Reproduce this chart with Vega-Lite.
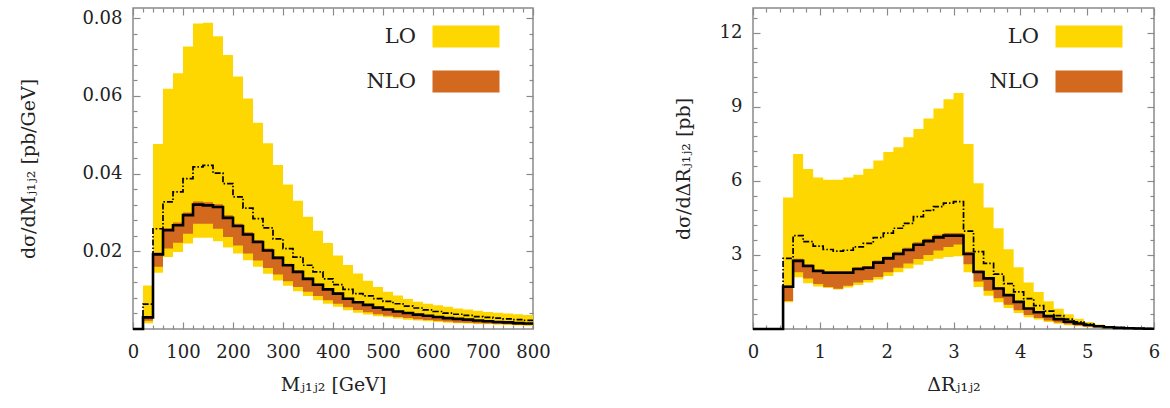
{
  "$schema": "https://vega.github.io/schema/vega-lite/v6.json",
  "padding": {"left": 19, "top": 6, "right": 5, "bottom": 0},
  "spacing": 122,
  "background": "white",
  "config": {
    "view": {"stroke": "#8a8a8a", "strokeWidth": 1.5},
    "axis": {
      "domain": false,
      "grid": false,
      "labelFont": "DejaVu Serif",
      "labelFontSize": 18,
      "labelColor": "#222",
      "titleFont": "DejaVu Serif",
      "titleFontSize": 19,
      "titleFontWeight": "normal",
      "titleColor": "#222",
      "tickColor": "#8a8a8a",
      "tickWidth": 1.2,
      "zindex": 1
    }
  },
  "resolve": {"scale": {"color": "independent"}, "legend": {"color": "independent"}},
  "datasets": {
    "mjj": [
      {"lo":0,"hi":20,"lo_min":0,"lo_max":0,"lo_c":0,"nlo_min":0,"nlo_max":0,"nlo_c":0},
      {"lo":20,"hi":40,"lo_min":0.0015,"lo_max":0.0112,"lo_c":0.0064,"nlo_min":0.0021,"nlo_max":0.0032,"nlo_c":0.0030},
      {"lo":40,"hi":60,"lo_min":0.0145,"lo_max":0.0476,"lo_c":0.0258,"nlo_min":0.0160,"nlo_max":0.0197,"nlo_c":0.0192},
      {"lo":60,"hi":80,"lo_min":0.0185,"lo_max":0.0618,"lo_c":0.0327,"nlo_min":0.0207,"nlo_max":0.0260,"nlo_c":0.0254},
      {"lo":80,"hi":100,"lo_min":0.0198,"lo_max":0.0658,"lo_c":0.0353,"nlo_min":0.0222,"nlo_max":0.0274,"nlo_c":0.0267},
      {"lo":100,"hi":120,"lo_min":0.0220,"lo_max":0.0727,"lo_c":0.0387,"nlo_min":0.0245,"nlo_max":0.0300,"nlo_c":0.0293},
      {"lo":120,"hi":140,"lo_min":0.0235,"lo_max":0.0786,"lo_c":0.0417,"nlo_min":0.0271,"nlo_max":0.0328,"nlo_c":0.0320},
      {"lo":140,"hi":160,"lo_min":0.0235,"lo_max":0.0788,"lo_c":0.0421,"nlo_min":0.0271,"nlo_max":0.0326,"nlo_c":0.0318},
      {"lo":160,"hi":180,"lo_min":0.0226,"lo_max":0.0753,"lo_c":0.0401,"nlo_min":0.0258,"nlo_max":0.0321,"nlo_c":0.0314},
      {"lo":180,"hi":200,"lo_min":0.0210,"lo_max":0.0705,"lo_c":0.0374,"nlo_min":0.0237,"nlo_max":0.0293,"nlo_c":0.0286},
      {"lo":200,"hi":220,"lo_min":0.0194,"lo_max":0.0650,"lo_c":0.0340,"nlo_min":0.0215,"nlo_max":0.0271,"nlo_c":0.0265},
      {"lo":220,"hi":240,"lo_min":0.0177,"lo_max":0.0593,"lo_c":0.0311,"nlo_min":0.0194,"nlo_max":0.0249,"nlo_c":0.0243},
      {"lo":240,"hi":260,"lo_min":0.0160,"lo_max":0.0531,"lo_c":0.0284,"nlo_min":0.0176,"nlo_max":0.0229,"nlo_c":0.0224},
      {"lo":260,"hi":280,"lo_min":0.0142,"lo_max":0.0478,"lo_c":0.0260,"nlo_min":0.0157,"nlo_max":0.0207,"nlo_c":0.0202},
      {"lo":280,"hi":300,"lo_min":0.0125,"lo_max":0.0422,"lo_c":0.0232,"nlo_min":0.0140,"nlo_max":0.0187,"nlo_c":0.0183},
      {"lo":300,"hi":320,"lo_min":0.0111,"lo_max":0.0372,"lo_c":0.0207,"nlo_min":0.0123,"nlo_max":0.0168,"nlo_c":0.0164},
      {"lo":320,"hi":340,"lo_min":0.0097,"lo_max":0.0330,"lo_c":0.0185,"nlo_min":0.0108,"nlo_max":0.0151,"nlo_c":0.0147},
      {"lo":340,"hi":360,"lo_min":0.0085,"lo_max":0.0289,"lo_c":0.0164,"nlo_min":0.0096,"nlo_max":0.0133,"nlo_c":0.0129},
      {"lo":360,"hi":380,"lo_min":0.0074,"lo_max":0.0253,"lo_c":0.0147,"nlo_min":0.0085,"nlo_max":0.0117,"nlo_c":0.0114},
      {"lo":380,"hi":400,"lo_min":0.0065,"lo_max":0.0221,"lo_c":0.0129,"nlo_min":0.0074,"nlo_max":0.0105,"nlo_c":0.0102},
      {"lo":400,"hi":420,"lo_min":0.0057,"lo_max":0.0189,"lo_c":0.0114,"nlo_min":0.0065,"nlo_max":0.0094,"nlo_c":0.0091},
      {"lo":420,"hi":440,"lo_min":0.0048,"lo_max":0.0165,"lo_c":0.0102,"nlo_min":0.0056,"nlo_max":0.0081,"nlo_c":0.0078},
      {"lo":440,"hi":460,"lo_min":0.0042,"lo_max":0.0143,"lo_c":0.0091,"nlo_min":0.0049,"nlo_max":0.0071,"nlo_c":0.0069},
      {"lo":460,"hi":480,"lo_min":0.0037,"lo_max":0.0124,"lo_c":0.0085,"nlo_min":0.0043,"nlo_max":0.0064,"nlo_c":0.0062},
      {"lo":480,"hi":500,"lo_min":0.0033,"lo_max":0.0108,"lo_c":0.0078,"nlo_min":0.0038,"nlo_max":0.0057,"nlo_c":0.0055},
      {"lo":500,"hi":520,"lo_min":0.0030,"lo_max":0.0096,"lo_c":0.0071,"nlo_min":0.0034,"nlo_max":0.0052,"nlo_c":0.0050},
      {"lo":520,"hi":540,"lo_min":0.0027,"lo_max":0.0086,"lo_c":0.0065,"nlo_min":0.0031,"nlo_max":0.0047,"nlo_c":0.0045},
      {"lo":540,"hi":560,"lo_min":0.0024,"lo_max":0.0077,"lo_c":0.0059,"nlo_min":0.0028,"nlo_max":0.0043,"nlo_c":0.0041},
      {"lo":560,"hi":580,"lo_min":0.0022,"lo_max":0.0070,"lo_c":0.0054,"nlo_min":0.0025,"nlo_max":0.0039,"nlo_c":0.0037},
      {"lo":580,"hi":600,"lo_min":0.0020,"lo_max":0.0065,"lo_c":0.0049,"nlo_min":0.0023,"nlo_max":0.0035,"nlo_c":0.0034},
      {"lo":600,"hi":620,"lo_min":0.0018,"lo_max":0.0061,"lo_c":0.0045,"nlo_min":0.0021,"nlo_max":0.0032,"nlo_c":0.0031},
      {"lo":620,"hi":640,"lo_min":0.0016,"lo_max":0.0057,"lo_c":0.0041,"nlo_min":0.0019,"nlo_max":0.0029,"nlo_c":0.0028},
      {"lo":640,"hi":660,"lo_min":0.0015,"lo_max":0.0053,"lo_c":0.0038,"nlo_min":0.0017,"nlo_max":0.0027,"nlo_c":0.0026},
      {"lo":660,"hi":680,"lo_min":0.0014,"lo_max":0.0050,"lo_c":0.0035,"nlo_min":0.0016,"nlo_max":0.0025,"nlo_c":0.0024},
      {"lo":680,"hi":700,"lo_min":0.0013,"lo_max":0.0047,"lo_c":0.0032,"nlo_min":0.0015,"nlo_max":0.0023,"nlo_c":0.0022},
      {"lo":700,"hi":720,"lo_min":0.0012,"lo_max":0.0044,"lo_c":0.0030,"nlo_min":0.0014,"nlo_max":0.0021,"nlo_c":0.0020},
      {"lo":720,"hi":740,"lo_min":0.0011,"lo_max":0.0042,"lo_c":0.0028,"nlo_min":0.0013,"nlo_max":0.0019,"nlo_c":0.0018},
      {"lo":740,"hi":760,"lo_min":0.0010,"lo_max":0.0040,"lo_c":0.0026,"nlo_min":0.0012,"nlo_max":0.0018,"nlo_c":0.0017},
      {"lo":760,"hi":780,"lo_min":0.0009,"lo_max":0.0038,"lo_c":0.0024,"nlo_min":0.0011,"nlo_max":0.0016,"nlo_c":0.0015},
      {"lo":780,"hi":800,"lo_min":0.0008,"lo_max":0.0036,"lo_c":0.0022,"nlo_min":0.0010,"nlo_max":0.0015,"nlo_c":0.0014}
    ],
    "dr": [
      {"lo":0,"hi":0.15,"lo_min":0,"lo_max":0,"lo_c":0,"nlo_min":0,"nlo_max":0,"nlo_c":0},
      {"lo":0.15,"hi":0.3,"lo_min":0,"lo_max":0,"lo_c":0,"nlo_min":0,"nlo_max":0,"nlo_c":0},
      {"lo":0.3,"hi":0.45,"lo_min":0,"lo_max":0,"lo_c":0,"nlo_min":0,"nlo_max":0,"nlo_c":0},
      {"lo":0.45,"hi":0.6,"lo_min":1.08,"lo_max":5.33,"lo_c":2.86,"nlo_min":1.13,"nlo_max":1.76,"nlo_c":1.71},
      {"lo":0.6,"hi":0.75,"lo_min":2.10,"lo_max":7.09,"lo_c":3.78,"nlo_min":2.30,"nlo_max":2.84,"nlo_c":2.76},
      {"lo":0.75,"hi":0.9,"lo_min":1.85,"lo_max":6.48,"lo_c":3.54,"nlo_min":2.05,"nlo_max":2.62,"nlo_c":2.55},
      {"lo":0.9,"hi":1.05,"lo_min":1.72,"lo_max":6.14,"lo_c":3.36,"nlo_min":1.82,"nlo_max":2.42,"nlo_c":2.35},
      {"lo":1.05,"hi":1.2,"lo_min":1.66,"lo_max":6.04,"lo_c":3.22,"nlo_min":1.70,"nlo_max":2.35,"nlo_c":2.28},
      {"lo":1.2,"hi":1.35,"lo_min":1.60,"lo_max":6.04,"lo_c":3.15,"nlo_min":1.63,"nlo_max":2.35,"nlo_c":2.28},
      {"lo":1.35,"hi":1.5,"lo_min":1.68,"lo_max":6.14,"lo_c":3.19,"nlo_min":1.75,"nlo_max":2.35,"nlo_c":2.28},
      {"lo":1.5,"hi":1.65,"lo_min":1.78,"lo_max":6.25,"lo_c":3.33,"nlo_min":1.88,"nlo_max":2.50,"nlo_c":2.43},
      {"lo":1.65,"hi":1.8,"lo_min":1.88,"lo_max":6.49,"lo_c":3.47,"nlo_min":1.98,"nlo_max":2.55,"nlo_c":2.48},
      {"lo":1.8,"hi":1.95,"lo_min":2.00,"lo_max":6.82,"lo_c":3.70,"nlo_min":2.11,"nlo_max":2.77,"nlo_c":2.69},
      {"lo":1.95,"hi":2.1,"lo_min":2.15,"lo_max":7.17,"lo_c":3.88,"nlo_min":2.30,"nlo_max":2.94,"nlo_c":2.86},
      {"lo":2.1,"hi":2.25,"lo_min":2.30,"lo_max":7.36,"lo_c":4.08,"nlo_min":2.48,"nlo_max":3.13,"nlo_c":3.04},
      {"lo":2.25,"hi":2.4,"lo_min":2.45,"lo_max":7.77,"lo_c":4.28,"nlo_min":2.65,"nlo_max":3.29,"nlo_c":3.20},
      {"lo":2.4,"hi":2.55,"lo_min":2.60,"lo_max":8.10,"lo_c":4.55,"nlo_min":2.83,"nlo_max":3.51,"nlo_c":3.41},
      {"lo":2.55,"hi":2.7,"lo_min":2.75,"lo_max":8.52,"lo_c":4.80,"nlo_min":3.00,"nlo_max":3.66,"nlo_c":3.56},
      {"lo":2.7,"hi":2.85,"lo_min":2.85,"lo_max":8.93,"lo_c":4.96,"nlo_min":3.18,"nlo_max":3.82,"nlo_c":3.71},
      {"lo":2.85,"hi":3,"lo_min":2.92,"lo_max":9.30,"lo_c":5.10,"nlo_min":3.32,"nlo_max":3.89,"nlo_c":3.78},
      {"lo":3,"hi":3.15,"lo_min":2.95,"lo_max":9.56,"lo_c":5.16,"nlo_min":3.42,"nlo_max":3.89,"nlo_c":3.78},
      {"lo":3.15,"hi":3.3,"lo_min":2.30,"lo_max":7.49,"lo_c":3.96,"nlo_min":2.62,"nlo_max":3.13,"nlo_c":3.04},
      {"lo":3.3,"hi":3.45,"lo_min":1.70,"lo_max":5.90,"lo_c":3.13,"nlo_min":1.92,"nlo_max":2.38,"nlo_c":2.31},
      {"lo":3.45,"hi":3.6,"lo_min":1.35,"lo_max":4.92,"lo_c":2.66,"nlo_min":1.55,"nlo_max":2.11,"nlo_c":2.05},
      {"lo":3.6,"hi":3.75,"lo_min":1.08,"lo_max":4.08,"lo_c":2.22,"nlo_min":1.25,"nlo_max":1.69,"nlo_c":1.64},
      {"lo":3.75,"hi":3.9,"lo_min":0.85,"lo_max":3.23,"lo_c":1.84,"nlo_min":0.98,"nlo_max":1.41,"nlo_c":1.37},
      {"lo":3.9,"hi":4.05,"lo_min":0.65,"lo_max":2.50,"lo_c":1.50,"nlo_min":0.76,"nlo_max":1.13,"nlo_c":1.10},
      {"lo":4.05,"hi":4.2,"lo_min":0.48,"lo_max":1.88,"lo_c":1.23,"nlo_min":0.57,"nlo_max":0.86,"nlo_c":0.83},
      {"lo":4.2,"hi":4.35,"lo_min":0.38,"lo_max":1.50,"lo_c":0.95,"nlo_min":0.45,"nlo_max":0.71,"nlo_c":0.68},
      {"lo":4.35,"hi":4.5,"lo_min":0.28,"lo_max":1.12,"lo_c":0.72,"nlo_min":0.34,"nlo_max":0.54,"nlo_c":0.52},
      {"lo":4.5,"hi":4.65,"lo_min":0.21,"lo_max":0.82,"lo_c":0.54,"nlo_min":0.26,"nlo_max":0.42,"nlo_c":0.40},
      {"lo":4.65,"hi":4.8,"lo_min":0.15,"lo_max":0.60,"lo_c":0.40,"nlo_min":0.19,"nlo_max":0.31,"nlo_c":0.30},
      {"lo":4.8,"hi":4.95,"lo_min":0.11,"lo_max":0.42,"lo_c":0.29,"nlo_min":0.14,"nlo_max":0.23,"nlo_c":0.22},
      {"lo":4.95,"hi":5.1,"lo_min":0.08,"lo_max":0.28,"lo_c":0.20,"nlo_min":0.10,"nlo_max":0.17,"nlo_c":0.16},
      {"lo":5.1,"hi":5.25,"lo_min":0.055,"lo_max":0.18,"lo_c":0.13,"nlo_min":0.07,"nlo_max":0.115,"nlo_c":0.11},
      {"lo":5.25,"hi":5.4,"lo_min":0.035,"lo_max":0.11,"lo_c":0.085,"nlo_min":0.045,"nlo_max":0.075,"nlo_c":0.07},
      {"lo":5.4,"hi":5.55,"lo_min":0.022,"lo_max":0.07,"lo_c":0.055,"nlo_min":0.03,"nlo_max":0.048,"nlo_c":0.045},
      {"lo":5.55,"hi":5.7,"lo_min":0.015,"lo_max":0.045,"lo_c":0.035,"nlo_min":0.02,"nlo_max":0.032,"nlo_c":0.03},
      {"lo":5.7,"hi":5.85,"lo_min":0.01,"lo_max":0.03,"lo_c":0.022,"nlo_min":0.012,"nlo_max":0.021,"nlo_c":0.02},
      {"lo":5.85,"hi":6,"lo_min":0.005,"lo_max":0.02,"lo_c":0.013,"nlo_min":0.007,"nlo_max":0.011,"nlo_c":0.01}
    ]
  },
  "hconcat": [
    {
      "width": 400,
      "height": 321,
      "data": {"name": "mjj"},
      "transform": [{"fold": ["lo", "hi"], "as": ["side", "edge"]}],
      "resolve": {"axis": {"x": "independent", "y": "independent"}},
      "layer": [
        {
          "mark": {"type": "area", "interpolate": "linear"},
          "encoding": {
            "x": {"field": "edge", "type": "quantitative", "scale": {"domain": [0, 800], "nice": false, "zero": false},
              "axis": {"orient": "bottom", "values": [0,20,40,60,80,100,120,140,160,180,200,220,240,260,280,300,320,340,360,380,400,420,440,460,480,500,520,540,560,580,600,620,640,660,680,700,720,740,760,780,800],
                "labelExpr": "datum.value % 100 === 0 ? datum.label : ''",
                "tickSize": {"condition": {"test": "datum.value % 100 === 0", "value": -7}, "value": -4},
                "labelPadding": 21, "labelFlush": false, "labelOverlap": false, "titlePadding": 11,
                "title": "Mⱼ₁ⱼ₂ [GeV]"}},
            "y": {"field": "lo_min", "type": "quantitative", "scale": {"domain": [0, 0.0826], "nice": false},
              "axis": {"orient": "left", "values": [0.004,0.008,0.012,0.016,0.02,0.024,0.028,0.032,0.036,0.04,0.044,0.048,0.052,0.056,0.06,0.064,0.068,0.072,0.076,0.08],
                "labelExpr": "abs(datum.value*50 - round(datum.value*50)) < 0.001 ? format(datum.value, '.2f') : ''",
                "tickSize": {"condition": {"test": "abs(datum.value*50 - round(datum.value*50)) < 0.001", "value": -7}, "value": -4},
                "labelPadding": 18, "labelOverlap": false, "titlePadding": 43,
                "title": "dσ/dMⱼ₁ⱼ₂ [pb/GeV]"}},
            "y2": {"field": "lo_max"},
            "order": [{"field": "edge", "type": "quantitative"}, {"field": "side", "type": "nominal"}],
            "color": {"datum": "LO", "type": "nominal",
              "scale": {"domain": ["LO", "NLO"], "range": ["#ffd700", "#d2691e"]},
              "legend": {"orient": "none", "legendX": 222, "legendY": 18, "title": null,
                "symbolType": "M13.4,-2.2L26.8,-2.2L26.8,2.2L13.4,2.2Z", "symbolSize": 100, "symbolStrokeWidth": 0,
                "labelAlign": "right", "labelOffset": 40, "labelFontSize": 21, "labelFont": "DejaVu Serif", "labelColor": "#222",
                "rowPadding": 22, "padding": 0}}
          }
        },
        {
          "mark": {"type": "area", "interpolate": "linear"},
          "encoding": {
            "x": {"field": "edge", "type": "quantitative", "scale": {"domain": [0, 800], "nice": false, "zero": false}, "axis": null},
            "y": {"field": "nlo_min", "type": "quantitative", "scale": {"domain": [0, 0.0826], "nice": false}, "axis": null},
            "y2": {"field": "nlo_max"},
            "order": [{"field": "edge", "type": "quantitative"}, {"field": "side", "type": "nominal"}],
            "color": {"datum": "NLO", "type": "nominal", "scale": {"domain": ["LO", "NLO"], "range": ["#ffd700", "#d2691e"]}}
          }
        },
        {
          "mark": {"type": "line", "color": "black", "strokeWidth": 1.7, "strokeDash": [6, 2, 1.5, 2], "interpolate": "linear"},
          "encoding": {
            "x": {"field": "edge", "type": "quantitative", "scale": {"domain": [0, 800], "nice": false, "zero": false}, "axis": null},
            "y": {"field": "lo_c", "type": "quantitative", "scale": {"domain": [0, 0.0826], "nice": false}, "axis": null},
            "order": [{"field": "edge", "type": "quantitative"}, {"field": "side", "type": "nominal"}]
          }
        },
        {
          "mark": {"type": "line", "color": "black", "strokeWidth": 2.6, "interpolate": "linear"},
          "encoding": {
            "x": {"field": "edge", "type": "quantitative", "scale": {"domain": [0, 800], "nice": false, "zero": false}, "axis": null},
            "y": {"field": "nlo_c", "type": "quantitative", "scale": {"domain": [0, 0.0826], "nice": false}, "axis": null},
            "order": [{"field": "edge", "type": "quantitative"}, {"field": "side", "type": "nominal"}]
          }
        },
        {
          "mark": {"type": "point", "opacity": 0},
          "encoding": {
            "x": {"field": "edge", "type": "quantitative", "scale": {"domain": [0, 800], "nice": false, "zero": false},
              "axis": {"orient": "top", "values": [0,20,40,60,80,100,120,140,160,180,200,220,240,260,280,300,320,340,360,380,400,420,440,460,480,500,520,540,560,580,600,620,640,660,680,700,720,740,760,780,800],
                "labels": false, "title": null,
                "tickSize": {"condition": {"test": "datum.value % 100 === 0", "value": -7}, "value": -4}}},
            "y": {"field": "lo_min", "type": "quantitative", "scale": {"domain": [0, 0.0826], "nice": false},
              "axis": {"orient": "right", "values": [0.004,0.008,0.012,0.016,0.02,0.024,0.028,0.032,0.036,0.04,0.044,0.048,0.052,0.056,0.06,0.064,0.068,0.072,0.076,0.08],
                "labels": false, "title": null,
                "tickSize": {"condition": {"test": "abs(datum.value*50 - round(datum.value*50)) < 0.001", "value": -7}, "value": -4}}}
          }
        }
      ]
    },
    {
      "width": 401,
      "height": 321,
      "data": {"name": "dr"},
      "transform": [{"fold": ["lo", "hi"], "as": ["side", "edge"]}],
      "resolve": {"axis": {"x": "independent", "y": "independent"}},
      "layer": [
        {
          "mark": {"type": "area", "interpolate": "linear"},
          "encoding": {
            "x": {"field": "edge", "type": "quantitative", "scale": {"domain": [0, 6], "nice": false, "zero": false},
              "axis": {"orient": "bottom", "values": [0,0.2,0.4,0.6,0.8,1,1.2,1.4,1.6,1.8,2,2.2,2.4,2.6,2.8,3,3.2,3.4,3.6,3.8,4,4.2,4.4,4.6,4.8,5,5.2,5.4,5.6,5.8,6],
                "labelExpr": "abs(datum.value - round(datum.value)) < 0.001 ? format(datum.value, 'd') : ''",
                "tickSize": {"condition": {"test": "abs(datum.value - round(datum.value)) < 0.001", "value": -7}, "value": -4},
                "labelPadding": 21, "labelFlush": false, "labelOverlap": false, "titlePadding": 11,
                "title": "ΔRⱼ₁ⱼ₂"}},
            "y": {"field": "lo_min", "type": "quantitative", "scale": {"domain": [0, 13], "nice": false},
              "axis": {"orient": "left", "values": [0.6,1.2,1.8,2.4,3,3.6,4.2,4.8,5.4,6,6.6,7.2,7.8,8.4,9,9.6,10.2,10.8,11.4,12,12.6],
                "labelExpr": "abs(datum.value/3 - round(datum.value/3)) < 0.001 ? format(datum.value, 'd') : ''",
                "tickSize": {"condition": {"test": "abs(datum.value/3 - round(datum.value/3)) < 0.001", "value": -7}, "value": -4},
                "labelPadding": 18, "labelOverlap": false, "titlePadding": 26,
                "title": "dσ/dΔRⱼ₁ⱼ₂ [pb]"}},
            "y2": {"field": "lo_max"},
            "order": [{"field": "edge", "type": "quantitative"}, {"field": "side", "type": "nominal"}],
            "color": {"datum": "LO", "type": "nominal",
              "scale": {"domain": ["LO", "NLO"], "range": ["#ffd700", "#d2691e"]},
              "legend": {"orient": "none", "legendX": 225, "legendY": 18, "title": null,
                "symbolType": "M13.4,-2.2L26.8,-2.2L26.8,2.2L13.4,2.2Z", "symbolSize": 100, "symbolStrokeWidth": 0,
                "labelAlign": "right", "labelOffset": 40, "labelFontSize": 21, "labelFont": "DejaVu Serif", "labelColor": "#222",
                "rowPadding": 22, "padding": 0}}
          }
        },
        {
          "mark": {"type": "area", "interpolate": "linear"},
          "encoding": {
            "x": {"field": "edge", "type": "quantitative", "scale": {"domain": [0, 6], "nice": false, "zero": false}, "axis": null},
            "y": {"field": "nlo_min", "type": "quantitative", "scale": {"domain": [0, 13], "nice": false}, "axis": null},
            "y2": {"field": "nlo_max"},
            "order": [{"field": "edge", "type": "quantitative"}, {"field": "side", "type": "nominal"}],
            "color": {"datum": "NLO", "type": "nominal", "scale": {"domain": ["LO", "NLO"], "range": ["#ffd700", "#d2691e"]}}
          }
        },
        {
          "mark": {"type": "line", "color": "black", "strokeWidth": 1.7, "strokeDash": [6, 2, 1.5, 2], "interpolate": "linear"},
          "encoding": {
            "x": {"field": "edge", "type": "quantitative", "scale": {"domain": [0, 6], "nice": false, "zero": false}, "axis": null},
            "y": {"field": "lo_c", "type": "quantitative", "scale": {"domain": [0, 13], "nice": false}, "axis": null},
            "order": [{"field": "edge", "type": "quantitative"}, {"field": "side", "type": "nominal"}]
          }
        },
        {
          "mark": {"type": "line", "color": "black", "strokeWidth": 2.6, "interpolate": "linear"},
          "encoding": {
            "x": {"field": "edge", "type": "quantitative", "scale": {"domain": [0, 6], "nice": false, "zero": false}, "axis": null},
            "y": {"field": "nlo_c", "type": "quantitative", "scale": {"domain": [0, 13], "nice": false}, "axis": null},
            "order": [{"field": "edge", "type": "quantitative"}, {"field": "side", "type": "nominal"}]
          }
        },
        {
          "mark": {"type": "point", "opacity": 0},
          "encoding": {
            "x": {"field": "edge", "type": "quantitative", "scale": {"domain": [0, 6], "nice": false, "zero": false},
              "axis": {"orient": "top", "values": [0,0.2,0.4,0.6,0.8,1,1.2,1.4,1.6,1.8,2,2.2,2.4,2.6,2.8,3,3.2,3.4,3.6,3.8,4,4.2,4.4,4.6,4.8,5,5.2,5.4,5.6,5.8,6],
                "labels": false, "title": null,
                "tickSize": {"condition": {"test": "abs(datum.value - round(datum.value)) < 0.001", "value": -7}, "value": -4}}},
            "y": {"field": "lo_min", "type": "quantitative", "scale": {"domain": [0, 13], "nice": false},
              "axis": {"orient": "right", "values": [0.6,1.2,1.8,2.4,3,3.6,4.2,4.8,5.4,6,6.6,7.2,7.8,8.4,9,9.6,10.2,10.8,11.4,12,12.6],
                "labels": false, "title": null,
                "tickSize": {"condition": {"test": "abs(datum.value/3 - round(datum.value/3)) < 0.001", "value": -7}, "value": -4}}}
          }
        }
      ]
    }
  ]
}
